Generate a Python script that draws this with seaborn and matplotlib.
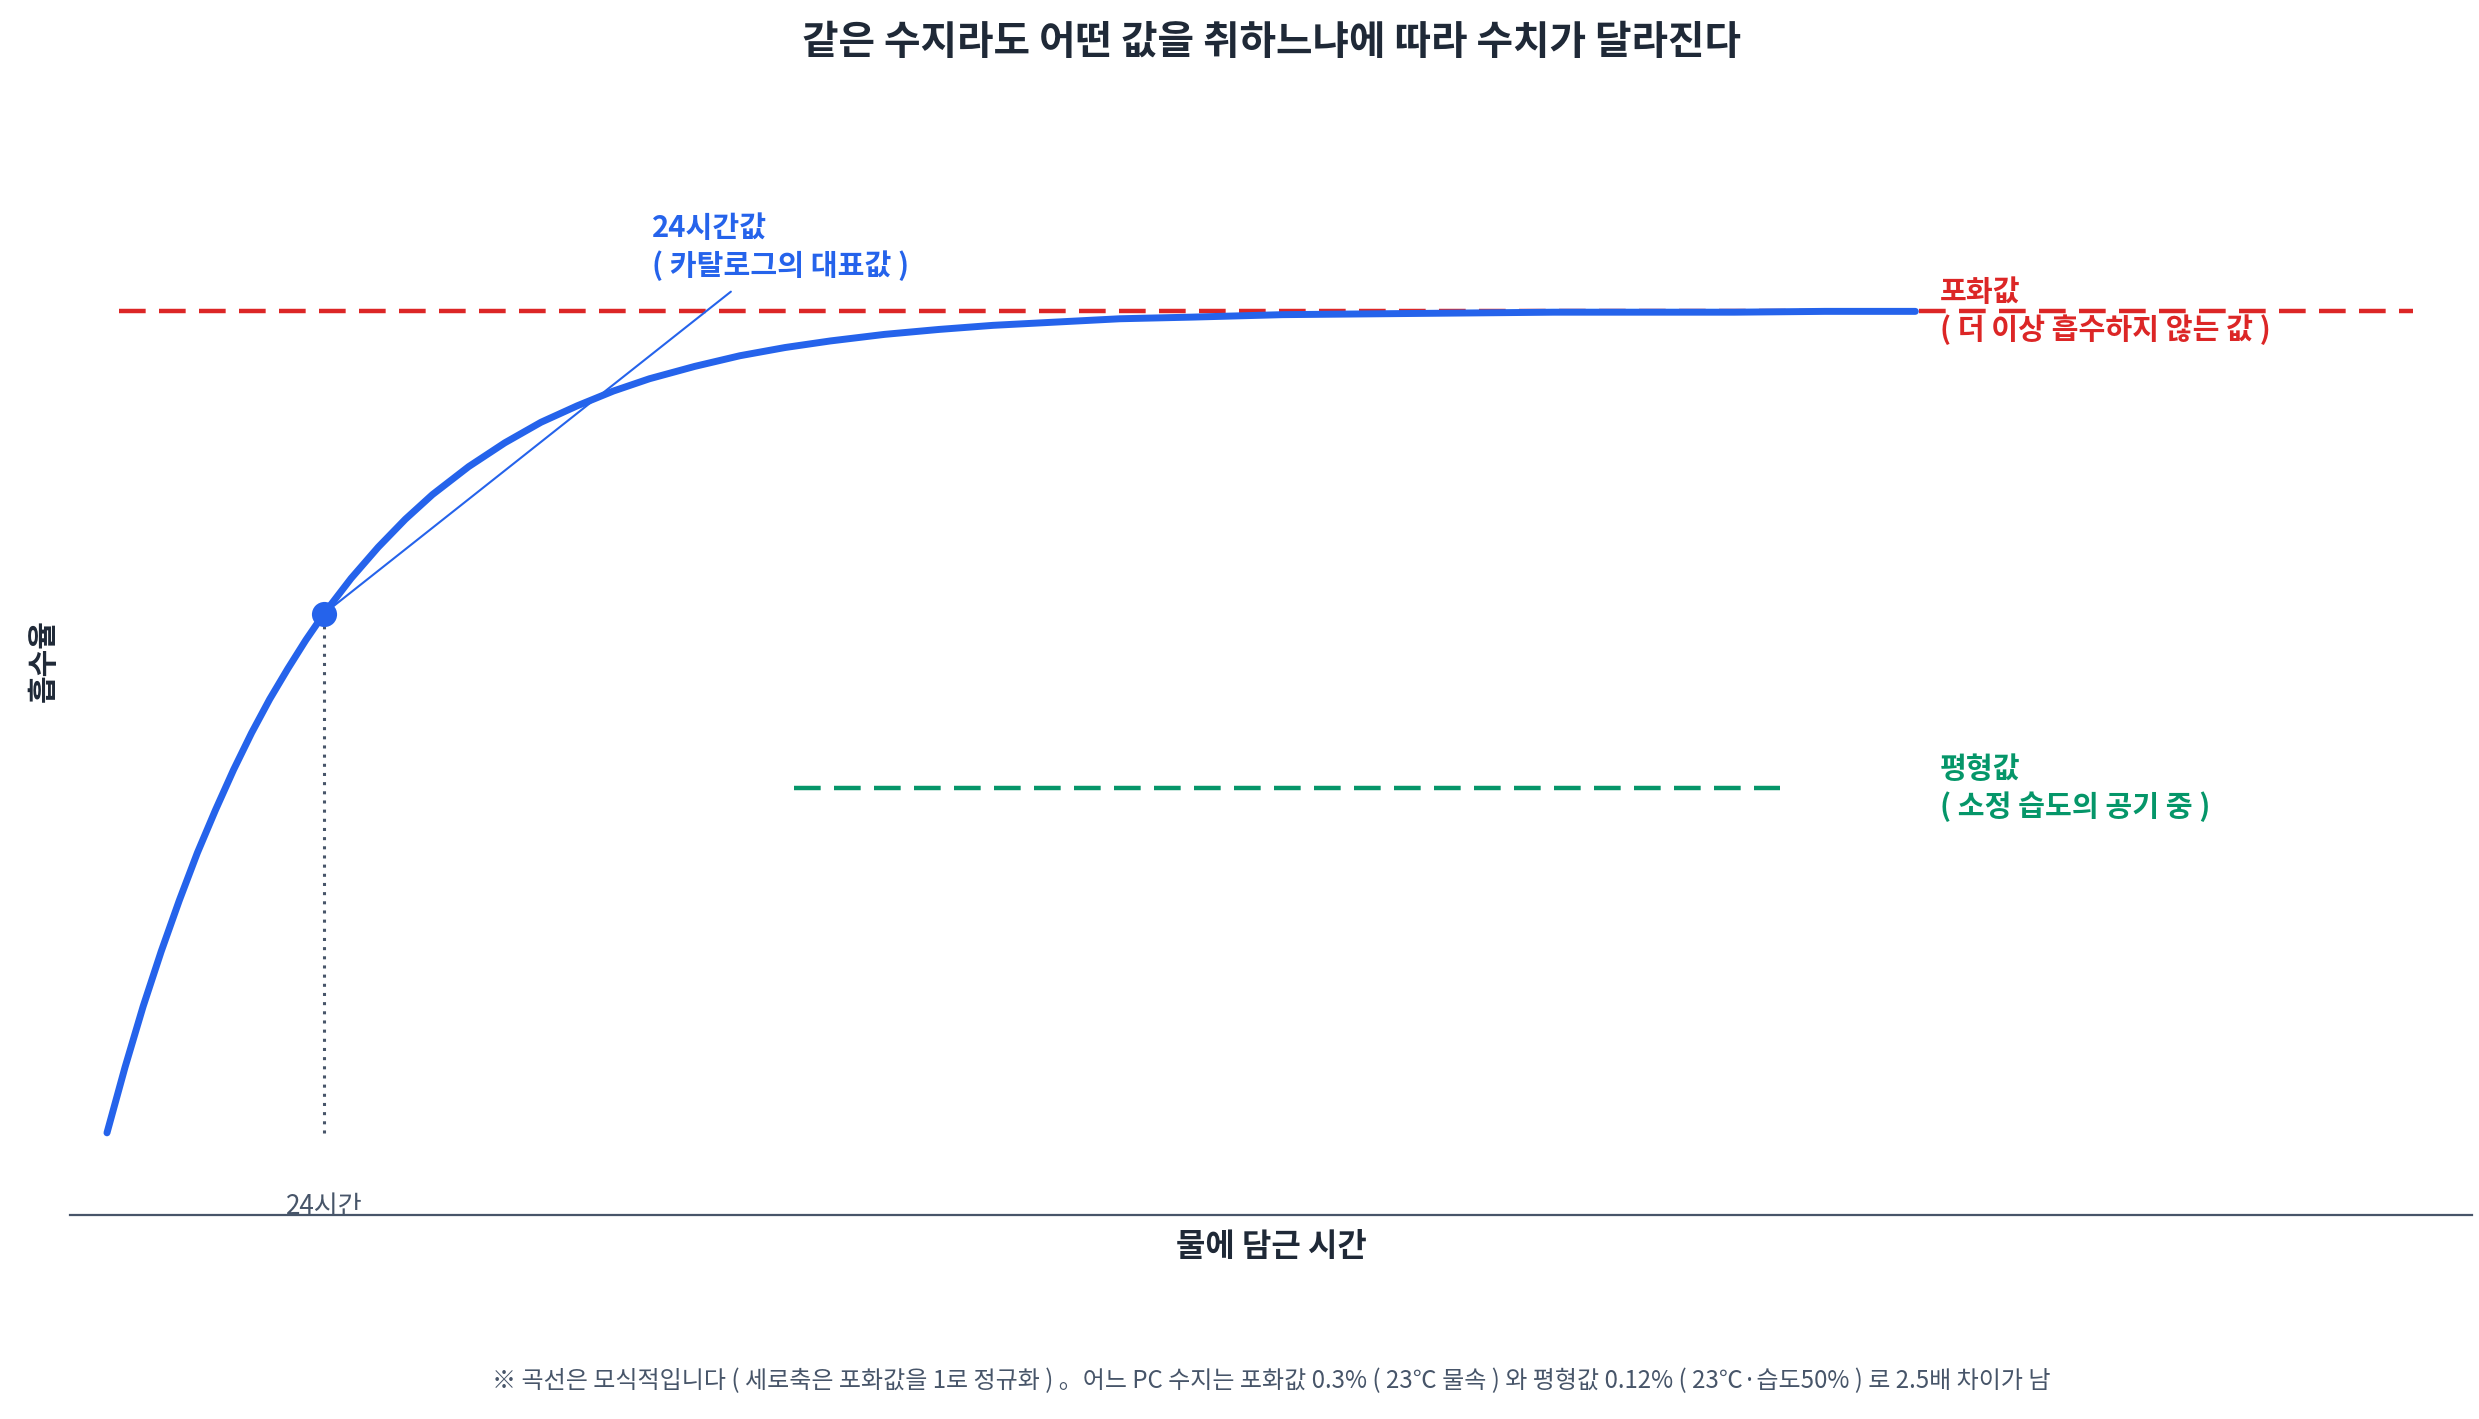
import matplotlib
matplotlib.use("Agg")
import matplotlib.pyplot as plt
import seaborn as sns
import pandas as pd

# ---- data ----
hours = [0, 2, 4, 6, 8, 10, 12, 14, 16, 18, 20, 22, 24, 27, 30, 33, 36, 40,
         44, 48, 52, 56, 60, 65, 70, 75, 80, 86, 92, 98, 105, 112, 120, 130,
         140, 150, 160, 170, 180, 190, 200]
absorption = [0.000, 0.080, 0.154, 0.221, 0.283, 0.341, 0.393, 0.442, 0.487,
              0.528, 0.565, 0.600, 0.632, 0.675, 0.713, 0.747, 0.777, 0.811,
              0.840, 0.865, 0.885, 0.903, 0.918, 0.933, 0.946, 0.956, 0.964,
              0.972, 0.978, 0.983, 0.987, 0.991, 0.993, 0.996, 0.997, 0.998,
              0.999, 0.999, 0.999, 1.000, 1.000]
point_hour = [24]
point_value = [0.632]
saturation_x = [1.3, 255]
saturation_y = [1.0, 1.0]
equilibrium_x = [76, 185]
equilibrium_y = [0.42, 0.42]
tick_positions = [24]
tick_labels = ["24시간"]

title = "같은 수지라도 어떤 값을 취하느냐에 따라 수치가 달라진다"
xlabel = "물에 담근 시간"
ylabel = "흡수율"
label_24h = "24시간값\n( 카탈로그의 대표값 )"
label_sat = "포화값\n( 더 이상 흡수하지 않는 값 )"
label_eq = "평형값\n( 소정 습도의 공기 중 )"
footnote = ("※ 곡선은 모식적입니다 ( 세로축은 포화값을 1로 정규화 ) 。어느 PC 수지는 포화값 0.3% "
            "( 23℃ 물속 ) 와 평형값 0.12% ( 23℃·습도50% ) 로 2.5배 차이가 남")

BLUE = "#2563EB"
RED = "#DC2626"
GREEN = "#059669"
DARK = "#1F2937"
SLATE = "#475569"

sns.set_theme(style="white")
plt.rcParams["font.family"] = ["Noto Sans CJK KR", "DejaVu Sans"]

W, H = 2479, 1419
fig = plt.figure(figsize=(W / 200, H / 200), dpi=200)
L, R, T, B = 70, 2472, 106, 1215
ax = fig.add_axes([L / W, 1 - B / H, (R - L) / W, (B - T) / H])

curve = pd.DataFrame({"hours": hours, "absorption": absorption})
sat = pd.DataFrame({"x": saturation_x, "y": saturation_y})
eq = pd.DataFrame({"x": equilibrium_x, "y": equilibrium_y})
pt = pd.DataFrame({"x": point_hour, "y": point_value})

sns.lineplot(data=sat, x="x", y="y", ax=ax, color=RED, lw=1.6,
             zorder=2).lines[-1].set_dashes((6, 3))
sns.lineplot(data=eq, x="x", y="y", ax=ax, color=GREEN, lw=1.6,
             zorder=2).lines[-1].set_dashes((6, 3))
ax.vlines(point_hour, 0, point_value, colors=SLATE, lw=1.1,
          linestyles=(0, (1, 2)), zorder=2)
sns.lineplot(data=curve, x="hours", y="absorption", ax=ax, color=BLUE,
             lw=2.5, zorder=3)
ax.lines[-1].set_solid_joinstyle("round")
sns.scatterplot(data=pt, x="x", y="y", ax=ax, color=BLUE, s=82,
                linewidth=0, zorder=4)

ax.set_xlim(-4.09, 261.56)
ax.set_ylim(-0.1, 1.25)

# annotation leader
ax.annotate("", xy=(69, 1.024), xytext=(point_hour[0], point_value[0]),
            arrowprops=dict(arrowstyle="-", color=BLUE, lw=0.75,
                            shrinkA=4, shrinkB=0), zorder=3)
lab_kw = dict(fontsize=10.5, fontweight="bold", ha="left", va="center",
              linespacing=1.3, zorder=5)
ax.text(60.3, 1.078, label_24h, color=BLUE, **lab_kw)
ax.text(202.7, 1.0, label_sat, color=RED, **lab_kw)
ax.text(202.7, 0.42, label_eq, color=GREEN, **lab_kw)

# axes styling
for s in ["top", "right", "left"]:
    ax.spines[s].set_visible(False)
ax.spines["bottom"].set_color(SLATE)
ax.spines["bottom"].set_linewidth(0.8)
ax.set_yticks([])
ax.set_xticks(tick_positions, tick_labels)
ax.tick_params(axis="x", length=0, pad=-7.9, labelsize=9.4, labelcolor=SLATE)
ax.set_xlabel(xlabel, fontsize=11.5, fontweight="bold", color=DARK, labelpad=4)
ax.set_ylabel(ylabel, fontsize=10.8, fontweight="bold", color=DARK, labelpad=4)
ax.grid(False)

cx = ((L + R) / 2) / W
fig.text(cx, 1 - 42 / H, title, ha="center", va="center", fontsize=14.3,
         fontweight="bold", color=DARK)
fig.text(cx, 1 - 1381 / H, footnote, ha="center", va="center", fontsize=8.65,
         color=SLATE)

fig.savefig("out.png", dpi=200, facecolor="white")
